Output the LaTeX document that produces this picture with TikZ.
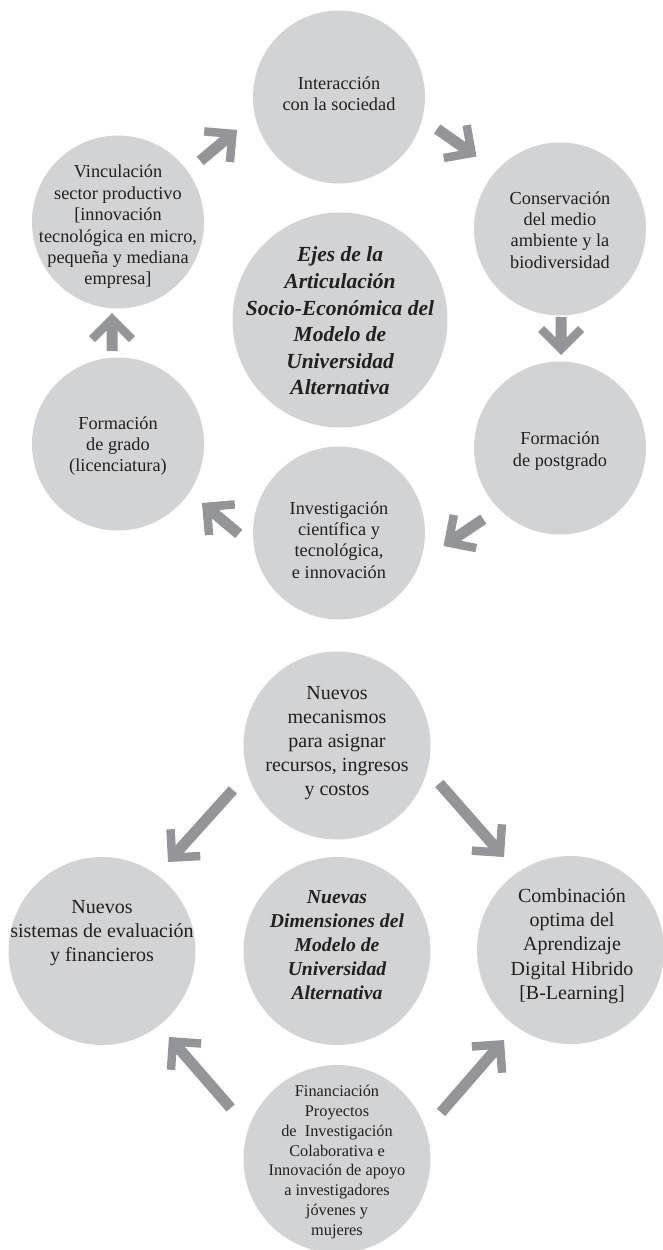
\documentclass[tikz,border=0pt]{standalone}
\usepackage{fontspec}
\setmainfont{Liberation Serif}
\usetikzlibrary{shapes.geometric}
\definecolor{bub}{HTML}{D1D3D4}
\definecolor{arr}{HTML}{939598}
\definecolor{ink}{HTML}{231F20}
\begin{document}
\begin{tikzpicture}[x=1pt,y=-1pt,
  bubble/.style={ellipse, fill=bub, draw=none, inner sep=0pt},
  sm/.style={bubble, minimum width=172pt, minimum height=173pt},
  big/.style={bubble, minimum width=215pt, minimum height=215pt},
  bot/.style={bubble, minimum width=187pt, minimum height=188pt},
  txt/.style={align=center, text=ink, inner sep=0pt},
  tA/.style={txt, font=\fontsize{18.3}{21.4}\selectfont},
  tB/.style={txt, font=\fontsize{21.5}{26.6}\selectfont\bfseries\itshape},
  tC/.style={txt, font=\fontsize{20}{24.2}\selectfont},
  tD/.style={txt, font=\fontsize{19.7}{24}\selectfont\bfseries\itshape},
  tE/.style={txt, font=\fontsize{16.3}{19.8}\selectfont},
  pics/blockarrow/.style={code={
    \fill[arr] (0,0) -- (-23,23) -- (-29,17) -- (-17.5,5.5) -- (-#1,5.5)
      -- (-#1,-5.5) -- (-17.5,-5.5) -- (-29,-17) -- (-23,-23) -- cycle;}}
]
\useasboundingbox (0,0) rectangle (662,1250);

% ---- top group: bubbles
\node[sm]  (inter) at (339,97) {};
\node[sm]  (cons)  at (560,229) {};
\node[sm]  (vinc)  at (118,222) {};
\node[big] (ejes)  at (340,320) {};
\node[sm]  (grado) at (118,444) {};
\node[sm]  (post)  at (560,448) {};
\node[sm]  (inv)   at (339,533) {};

% ---- top group: arrows
\coordinate (a1) at (237,130);
\coordinate (a2) at (476.5,156.5);
\coordinate (a3) at (112,313);
\coordinate (a4) at (561,355);
\coordinate (a5) at (443.5,546);
\coordinate (a6) at (202,503);
\pic[rotate=40]  at (a1) {blockarrow=48};
\pic[rotate=-35] at (a2) {blockarrow=48};
\pic[rotate=90]  at (a3) {blockarrow=38};
\pic[rotate=-90] at (a4) {blockarrow=38};
\pic[rotate=214] at (a5) {blockarrow=48};
\pic[rotate=140] at (a6) {blockarrow=48};

% ---- top group: texts
\node[tA] (inter-t) at (339,94) {Interacción\\con la sociedad};
\node[tA] (cons-t) at (560,230) {Conservación\\del medio\\ambiente y la\\biodiversidad};
\node[tA] (vinc-t) at (118,227) {Vinculación\\sector productivo\\{[}innovación\\tecnológica en micro,\\pequeña y mediana\\empresa{]}};
\node[tB] (ejes-t) at (340,321) {Ejes de la\\Articulación\\Socio-Económica del\\Modelo de\\Universidad\\Alternativa};
\node[tA] (grado-t) at (118,446) {Formación\\de grado\\(licenciatura)};
\node[tA] (post-t) at (560,451) {Formación\\de postgrado};
\node[tA] (inv-t) at (339,540) {Investigación\\científica y\\tecnológica,\\e innovación};

% ---- bottom group: bubbles
\node[bot] (meca)   at (337,745.5) {};
\node[bot] (sist)   at (102,951) {};
\node[bot] (nuevas) at (337,951) {};
\node[bot] (comb)   at (570.5,950) {};
\node[bot] (fin)    at (337,1159) {};

% ---- bottom group: arrows
\coordinate (b1) at (168,862);
\coordinate (b2) at (504,857);
\coordinate (b3) at (169,1037);
\coordinate (b4) at (504,1040);
\pic[rotate=228]   at (b1) {blockarrow=97};
\pic[rotate=-48.7] at (b2) {blockarrow=98};
\pic[rotate=131]   at (b3) {blockarrow=94};
\pic[rotate=49]    at (b4) {blockarrow=96};

% ---- bottom group: texts
\node[tC] (meca-t) at (337,743) {Nuevos\\mecanismos\\para asignar\\recursos, ingresos\\y costos};
\node[tC] (sist-t) at (102,933) {Nuevos\\sistemas de evaluación\\y financieros};
\node[tD] (nuevas-t) at (337,945) {Nuevas\\Dimensiones del\\Modelo de\\Universidad\\Alternativa};
\node[tC] (comb-t) at (572,946) {Combinación\\optima del\\Aprendizaje\\Digital Hibrido\\{[}B-Learning{]}};
\node[tE] (fin-t) at (337,1162) {Financiación\\Proyectos\\de~~Investigación\\Colaborativa e\\Innovación de apoyo\\a investigadores\\jóvenes y\\mujeres};
\end{tikzpicture}
\end{document}
